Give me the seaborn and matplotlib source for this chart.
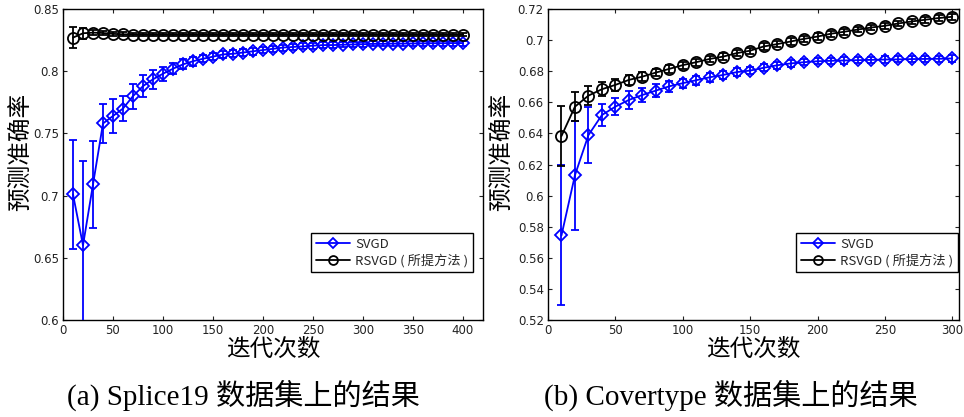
import matplotlib
matplotlib.use("Agg")
import matplotlib.pyplot as plt
import seaborn as sns
import pandas as pd
import numpy as np

# ---------------- data ----------------
iters_a = [10, 20, 30, 40, 50, 60, 70, 80, 90, 100, 110, 120, 130, 140, 150, 160, 170, 180, 190, 200,
           210, 220, 230, 240, 250, 260, 270, 280, 290, 300, 310, 320, 330, 340, 350, 360, 370, 380, 390, 400]
svgd_a = [0.701, 0.660, 0.709, 0.758, 0.764, 0.770, 0.780, 0.788, 0.7935, 0.798,
          0.802, 0.8055, 0.808, 0.810, 0.8117, 0.8135, 0.814, 0.815, 0.816, 0.817,
          0.818, 0.819, 0.8195, 0.820, 0.8205, 0.821, 0.821, 0.8213, 0.8215, 0.8217,
          0.822, 0.822, 0.8222, 0.8222, 0.8223, 0.8224, 0.8225, 0.8225, 0.8226, 0.8226]
svgd_a_err = [0.044, 0.068, 0.035, 0.016, 0.014, 0.010, 0.010, 0.009, 0.0075, 0.0055,
              0.0045, 0.004, 0.0035, 0.003, 0.003, 0.003, 0.0028, 0.0027, 0.0026, 0.0025,
              0.0025, 0.0024, 0.0024, 0.0023, 0.0023, 0.0022, 0.0022, 0.0022, 0.0021, 0.0021,
              0.0021, 0.002, 0.002, 0.002, 0.002, 0.002, 0.002, 0.002, 0.002, 0.002]
rsvgd_a = [0.827, 0.8305, 0.831, 0.8307, 0.830, 0.8297, 0.8295, 0.8294, 0.8294, 0.8294,
           0.8294, 0.8294, 0.8294, 0.8294, 0.8294, 0.8294, 0.8294, 0.8294, 0.8294, 0.8294,
           0.8294, 0.8294, 0.8294, 0.8294, 0.8294, 0.8294, 0.8294, 0.8294, 0.8294, 0.8294,
           0.8294, 0.8294, 0.8294, 0.8294, 0.8294, 0.8294, 0.8294, 0.8294, 0.8294, 0.8294]
rsvgd_a_err = [0.0085, 0.0045, 0.002, 0.0018, 0.0016, 0.0015, 0.0015, 0.0015, 0.0015, 0.0015,
               0.0015, 0.0015, 0.0015, 0.0015, 0.0015, 0.0015, 0.0015, 0.0015, 0.0015, 0.0015,
               0.0015, 0.0015, 0.0015, 0.0015, 0.0015, 0.0015, 0.0015, 0.0015, 0.0015, 0.0015,
               0.0015, 0.0015, 0.0015, 0.0015, 0.0015, 0.0015, 0.0015, 0.0015, 0.0015, 0.0015]

iters_b = [10, 20, 30, 40, 50, 60, 70, 80, 90, 100, 110, 120, 130, 140, 150,
           160, 170, 180, 190, 200, 210, 220, 230, 240, 250, 260, 270, 280, 290, 300]
svgd_b = [0.5744, 0.6131, 0.6389, 0.6518, 0.6572, 0.6615, 0.6647, 0.6675, 0.6703, 0.6723,
          0.6742, 0.6761, 0.6776, 0.6794, 0.6804, 0.6822, 0.6838, 0.6850, 0.6858, 0.6864,
          0.6867, 0.6869, 0.6871, 0.6873, 0.6875, 0.6876, 0.6878, 0.6879, 0.6880, 0.6882]
svgd_b_err = [0.045, 0.035, 0.018, 0.007, 0.0056, 0.0055, 0.0045, 0.004, 0.0035, 0.003,
              0.003, 0.0028, 0.0026, 0.0025, 0.0024, 0.0023, 0.0022, 0.0021, 0.002, 0.002,
              0.002, 0.002, 0.002, 0.002, 0.002, 0.002, 0.002, 0.002, 0.002, 0.002]
rsvgd_b = [0.6383, 0.6572, 0.6643, 0.6684, 0.6712, 0.6744, 0.6765, 0.6791, 0.6815, 0.6839,
           0.6858, 0.6879, 0.6894, 0.6916, 0.6932, 0.6959, 0.6974, 0.6991, 0.7008, 0.7023,
           0.7041, 0.7054, 0.7068, 0.7081, 0.7092, 0.7107, 0.7120, 0.7131, 0.7142, 0.7150]
rsvgd_b_err = [0.0195, 0.0095, 0.006, 0.0044, 0.004, 0.003, 0.003, 0.0025, 0.0024, 0.0023,
               0.0022, 0.0021, 0.002, 0.002, 0.002, 0.002, 0.002, 0.002, 0.002, 0.002,
               0.0019, 0.0019, 0.0019, 0.0019, 0.0019, 0.0018, 0.0018, 0.0018, 0.0018, 0.0018]

yticks_a = [0.6, 0.65, 0.7, 0.75, 0.8, 0.85]
ytick_labels_a = ["0.6", "0.65", "0.7", "0.75", "0.8", "0.85"]
xticks_a = [0, 50, 100, 150, 200, 250, 300, 350, 400]
yticks_b = [0.52, 0.54, 0.56, 0.58, 0.6, 0.62, 0.64, 0.66, 0.68, 0.7, 0.72]
ytick_labels_b = ["0.52", "0.54", "0.56", "0.58", "0.6", "0.62", "0.64", "0.66", "0.68", "0.7", "0.72"]
xticks_b = [0, 50, 100, 150, 200, 250, 300]

series_names = ["SVGD", "RSVGD ( 所提方法 )"]
ylabel = "预测准确率"
xlabel = "迭代次数"
captions = ["(a) Splice19 数据集上的结果", "(b) Covertype 数据集上的结果"]

# ---------------- style ----------------
sns.set_theme(style="ticks")
plt.rcParams["font.family"] = ["DejaVu Sans", "Noto Sans CJK SC"]
plt.rcParams["xtick.direction"] = "in"
plt.rcParams["ytick.direction"] = "in"
cjk = ["Noto Sans CJK SC", "DejaVu Sans"]

W, H = 964, 417
fig = plt.figure(figsize=(W / 100, H / 100), dpi=100)
fig.patch.set_facecolor("white")

def px_axes(x0, x1, y0, y1):
    return fig.add_axes([x0 / W, (H - y1) / H, (x1 - x0) / W, (y1 - y0) / H])

ax_a = px_axes(63, 483, 9, 320)
ax_b = px_axes(548, 959, 9, 320)

colors = ["#0000ff", "#000000"]
markers = ["D", "o"]
msizes = [6.3, 8]

def draw(ax, x, series, errs, xlim, ylim, xticks, yticks, ylabs, leg_anchor, ylab_x):
    for i, (y, e) in enumerate(zip(series, errs)):
        df = pd.DataFrame({"iter": x, "acc": y})
        sns.lineplot(data=df, x="iter", y="acc", ax=ax, color=colors[i],
                     marker=markers[i], markersize=msizes[i], markerfacecolor="none",
                     markeredgecolor=colors[i], markeredgewidth=1.3, linewidth=1.3,
                     label=series_names[i], zorder=3 + i)
        ax.errorbar(x, y, yerr=e, fmt="none", ecolor=colors[i], elinewidth=1.3,
                    capsize=3, capthick=1.3, zorder=3 + i)
    ax.set_xlim(*xlim)
    ax.set_ylim(*ylim)
    ax.set_xticks(xticks)
    ax.set_xticklabels([str(t) for t in xticks], fontsize=8.5)
    ax.set_yticks(yticks)
    ax.set_yticklabels(ylabs, fontsize=8.5)
    ax.tick_params(top=True, right=True, length=3, width=0.8, pad=3, colors="#222222")
    for s in ax.spines.values():
        s.set_color("black")
        s.set_linewidth(1.0)
    ax.set_xlabel(xlabel, fontsize=17, family=cjk, color="black")
    ax.set_ylabel(ylabel, fontsize=17, family=cjk, color="black")
    ax.xaxis.set_label_coords(0.5, -0.058)
    ax.yaxis.set_label_coords(ylab_x, 0.54)
    ax.grid(False)
    leg = ax.legend(loc="upper right", bbox_to_anchor=leg_anchor, borderaxespad=0,
                    prop={"family": cjk, "size": 9.5}, fancybox=False, framealpha=1,
                    edgecolor="black", handlelength=2.6, borderpad=0.35,
                    labelspacing=0.25, handletextpad=0.4, markerscale=0.8)
    leg.get_frame().set_linewidth(1.0)

draw(ax_a, iters_a, [svgd_a, rsvgd_a], [svgd_a_err, rsvgd_a_err], (0, 420), (0.6, 0.85),
     xticks_a, yticks_a, ytick_labels_a, (0.976, 0.28), -0.074)
draw(ax_b, iters_b, [svgd_b, rsvgd_b], [svgd_b_err, rsvgd_b_err], (0, 305), (0.52, 0.72),
     xticks_b, yticks_b, ytick_labels_b, (0.9976, 0.28), -0.085)

cap_font = ["Liberation Serif", "Noto Sans CJK SC"]
fig.text(243 / W, (H - 395) / H, captions[0], ha="center", va="center", fontsize=21,
         family=cap_font, color="black")
fig.text(731 / W, (H - 395) / H, captions[1], ha="center", va="center", fontsize=21,
         family=cap_font, color="black")

fig.savefig("out.png", dpi=100, facecolor="white")
